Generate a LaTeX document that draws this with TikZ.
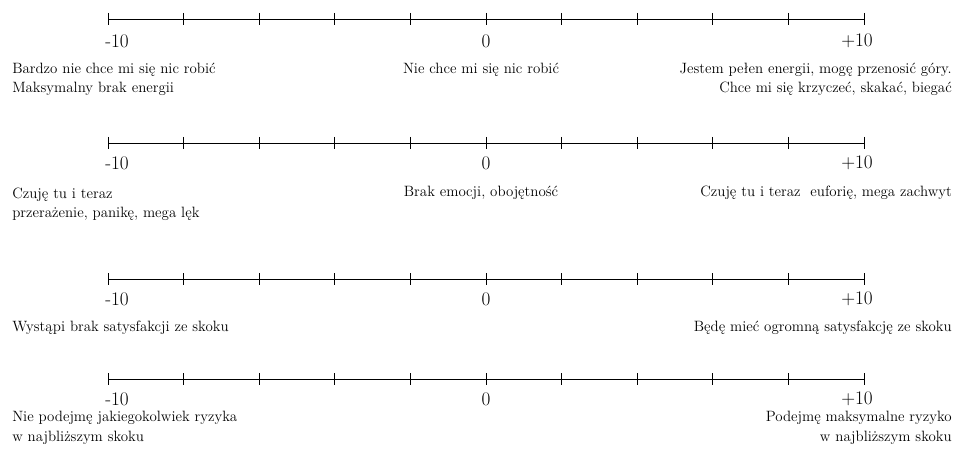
\documentclass[tikz,border=0pt]{standalone}
\usepackage{fontspec}
\setmainfont{Latin Modern Roman}
\usetikzlibrary{calc}
\tikzset{
  axis/.style={line width=0.6pt, black},
  num/.style={inner sep=0pt, font=\fontsize{14.4}{16}\selectfont},
  lbl/.style={inner sep=0pt, font=\fontsize{11.2}{14.6}\selectfont},
  lblL/.style={lbl, anchor=west, align=left},
  lblR/.style={lbl, anchor=east, align=right},
  lblC/.style={lbl, anchor=center, align=center}
}
\begin{document}
\begin{tikzpicture}[x=0.75pt,y=-0.75pt]
\useasboundingbox (0,0) rectangle (955,456);
% axes
\foreach \r/\yy in {1/19,2/143,3/279,4/379}{
  \coordinate (a\r) at (108,\yy);
  \coordinate (b\r) at (864,\yy);
  \draw[axis] (a\r) -- (b\r);
  \foreach \i in {0,...,10}{
    \draw[axis] ($(a\r)!\i/10!(b\r)$) +(0,-6) -- +(0,6);
  }
}
% numbers
\foreach \r/\yy in {1/41,2/163,3/299,4/399}{
  \node[num] (mn\r) at (117,\yy) {-10};
  \node[num] (zr\r) at (486,\yy) {0};
  \node[num] (pl\r) at (857,\yy) {+10};
}
% row 1
\node[lblL] (l1) at (12,79.5) {Bardzo nie chce mi się nic robić\\Maksymalny brak energii};
\node[lblC] (c1) at (481,70) {Nie chce mi się nic robić};
\node[lblR] (r1) at (952,79.5) {Jestem pełen energii, mogę przenosić góry.\\Chce mi się krzyczeć, skakać, biegać};
% row 2
\node[lblL] (l2) at (12,204.5) {Czuję tu i teraz\\przerażenie, panikę, mega lęk};
\node[lblC] (c2) at (481,193) {Brak emocji, obojętność};
\node[lblR] (r2) at (952,193) {Czuję tu i teraz\ \ euforię, mega zachwyt};
% row 3
\node[lblL] (l3) at (12,328) {Wystąpi brak satysfakcji ze skoku};
\node[lblR] (r3) at (952,328) {Będę mieć ogromną satysfakcję ze skoku};
% row 4
\node[lblL] (l4) at (12,428) {Nie podejmę jakiegokolwiek ryzyka\\w najbliższym skoku};
\node[lblR] (r4) at (952,428) {Podejmę maksymalne ryzyko\\w najbliższym skoku};
\end{tikzpicture}
\end{document}
